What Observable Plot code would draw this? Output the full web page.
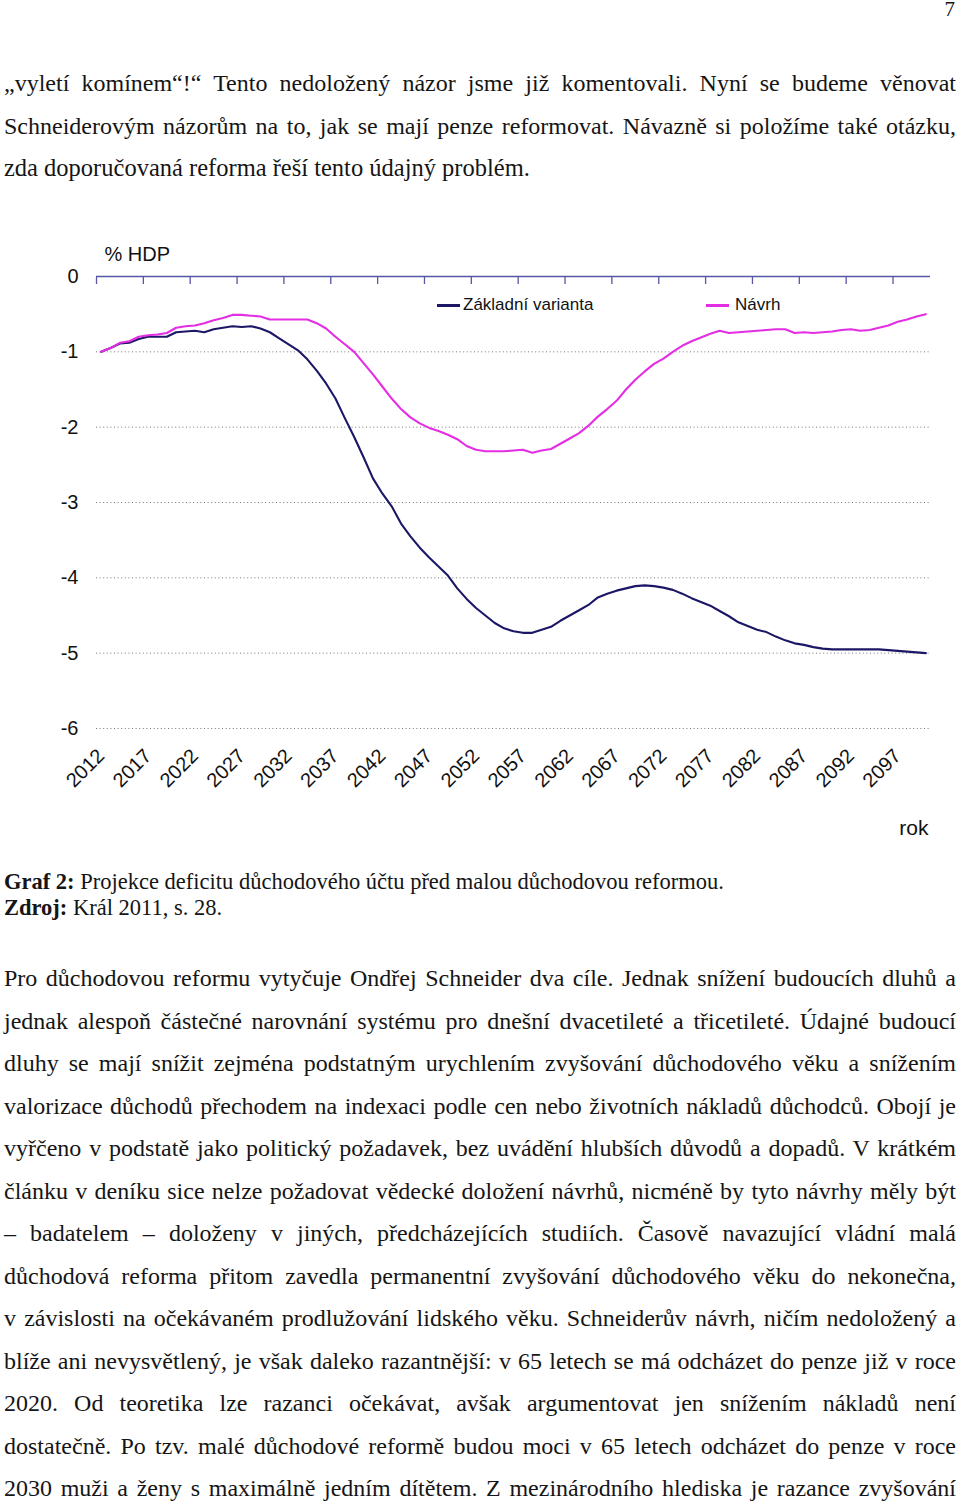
<!DOCTYPE html>
<html><head><meta charset="utf-8">
<script src="https://cdn.jsdelivr.net/npm/d3@7"></script>
<script src="https://cdn.jsdelivr.net/npm/@observablehq/plot@0.6"></script>
<style>
html,body{margin:0;padding:0;background:#fff;}
body{width:960px;height:1505px;position:relative;overflow:hidden;font-family:"Liberation Serif","DejaVu Serif",serif;color:#151515;}
.blk{position:absolute;left:4px;width:952px;}
.blk div{text-align:justify;text-align-last:justify;}
.blk div.last{text-align-last:left;word-spacing:0;}
#top{top:62px;font-size:24px;line-height:42.5px;word-spacing:-1px;}
#top div.last{font-size:24.5px;}
#bottom{top:957px;font-size:24px;line-height:42.5px;word-spacing:-1px;}
#cap{top:869px;font-size:22.5px;line-height:26px;}
#pg{position:absolute;right:5px;top:0px;font-size:21px;line-height:18px;}
#chart{position:absolute;left:0;top:230px;width:960px;height:620px;}
#legend{position:absolute;top:65px;left:0;width:960px;height:22px;font-family:"Liberation Sans",Arial,sans-serif;font-size:17px;color:#111;}
#legend span.sw{position:absolute;top:9px;height:2.5px;width:23px;}
#legend span.lb{position:absolute;top:0;line-height:20px;}
</style></head>
<body>
<div id="pg">7</div>
<div class="blk" id="top">
<div>„vyletí komínem“!“ Tento nedoložený názor jsme již komentovali. Nyní se budeme věnovat</div>
<div>Schneiderovým názorům na to, jak se mají penze reformovat. Návazně si položíme také otázku,</div>
<div class="last">zda doporučovaná reforma řeší tento údajný problém.</div>
</div>
<div id="chart"></div>
<div class="blk" id="cap">
<div class="last"><b>Graf 2:</b> Projekce deficitu důchodového účtu před malou důchodovou reformou.</div>
<div class="last"><b>Zdroj:</b> Král 2011, s. 28.</div>
</div>
<div class="blk" id="bottom">
<div>Pro důchodovou reformu vytyčuje Ondřej Schneider dva cíle. Jednak snížení budoucích dluhů a</div>
<div>jednak alespoň částečné narovnání systému pro dnešní dvacetileté a třicetileté. Údajné budoucí</div>
<div>dluhy se mají snížit zejména podstatným urychlením zvyšování důchodového věku a snížením</div>
<div>valorizace důchodů přechodem na indexaci podle cen nebo životních nákladů důchodců. Obojí je</div>
<div>vyřčeno v podstatě jako politický požadavek, bez uvádění hlubších důvodů a dopadů. V krátkém</div>
<div>článku v deníku sice nelze požadovat vědecké doložení návrhů, nicméně by tyto návrhy měly být</div>
<div>– badatelem – doloženy v jiných, předcházejících studiích. Časově navazující vládní malá</div>
<div>důchodová reforma přitom zavedla permanentní zvyšování důchodového věku do nekonečna,</div>
<div>v závislosti na očekávaném prodlužování lidského věku. Schneiderův návrh, ničím nedoložený a</div>
<div>blíže ani nevysvětlený, je však daleko razantnější: v 65 letech se má odcházet do penze již v roce</div>
<div>2020. Od teoretika lze razanci očekávat, avšak argumentovat jen snížením nákladů není</div>
<div>dostatečně. Po tzv. malé důchodové reformě budou moci v 65 letech odcházet do penze v roce</div>
<div>2030 muži a ženy s maximálně jedním dítětem. Z mezinárodního hlediska je razance zvyšování</div>
</div>
<script>
const startYear = 2012;
const seriesNames = ["Základní varianta", "Návrh"];
const zakladni = [
-1.00,-0.95,-0.89,-0.88,-0.83,-0.80,-0.80,-0.80,-0.74,-0.73,
-0.72,-0.74,-0.70,-0.68,-0.66,-0.67,-0.66,-0.69,-0.74,-0.82,
-0.90,-0.98,-1.10,-1.25,-1.42,-1.62,-1.88,-2.13,-2.40,-2.68,
-2.88,-3.05,-3.28,-3.45,-3.60,-3.73,-3.85,-3.97,-4.14,-4.28,
-4.40,-4.50,-4.60,-4.67,-4.71,-4.73,-4.73,-4.69,-4.65,-4.57,
-4.50,-4.43,-4.36,-4.26,-4.21,-4.17,-4.14,-4.11,-4.10,-4.11,
-4.13,-4.16,-4.21,-4.27,-4.32,-4.37,-4.44,-4.51,-4.59,-4.64,
-4.69,-4.72,-4.78,-4.83,-4.87,-4.89,-4.92,-4.94,-4.95,-4.95,
-4.95,-4.95,-4.95,-4.95,-4.96,-4.97,-4.98,-4.99,-5.00];
const navrh = [
-1.00,-0.95,-0.88,-0.86,-0.80,-0.78,-0.77,-0.75,-0.68,-0.66,
-0.65,-0.62,-0.58,-0.55,-0.51,-0.51,-0.52,-0.53,-0.57,-0.57,
-0.57,-0.57,-0.57,-0.62,-0.69,-0.80,-0.90,-1.00,-1.15,-1.30,
-1.46,-1.62,-1.76,-1.87,-1.95,-2.01,-2.05,-2.10,-2.16,-2.25,
-2.30,-2.32,-2.32,-2.32,-2.31,-2.30,-2.34,-2.31,-2.29,-2.22,
-2.15,-2.08,-1.98,-1.86,-1.76,-1.65,-1.50,-1.37,-1.26,-1.16,
-1.09,-1.00,-0.92,-0.86,-0.81,-0.76,-0.72,-0.75,-0.74,-0.73,
-0.72,-0.71,-0.70,-0.70,-0.75,-0.74,-0.75,-0.74,-0.73,-0.71,
-0.70,-0.72,-0.71,-0.68,-0.65,-0.60,-0.57,-0.53,-0.50];
const labelYears = [2012,2017,2022,2027,2032,2037,2042,2047,2052,2057,2062,2067,2072,2077,2082,2087,2092,2097];
const yTicks = [0,-1,-2,-3,-4,-5,-6];
const yLabel = "% HDP";
const xLabel = "rok";
const colors = ["#1b1766", "#e42ee4"];
const axisColor = "#5757a6";

const rows = [];
zakladni.forEach((v, i) => rows.push({year: startYear + i, value: v, series: seriesNames[0]}));
navrh.forEach((v, i) => rows.push({year: startYear + i, value: v, series: seriesNames[1]}));
const boundaries = labelYears.map(y => y - 0.5);

const chart = Plot.plot({
  width: 960, height: 620,
  marginLeft: 96, marginRight: 30, marginTop: 46, marginBottom: 122,
  x: {domain: [startYear - 0.5, startYear + zakladni.length - 0.5]},
  y: {domain: [-6, 0]},
  color: {domain: seriesNames, range: colors},
  style: {fontFamily: '"Liberation Sans", Arial, sans-serif', background: "transparent", color: "#111", overflow: "visible"},
  marks: [
    Plot.gridY(yTicks.filter(d => d < 0), {stroke: "#777", strokeOpacity: 1, strokeWidth: 1, strokeDasharray: "1,2.6"}),
    Plot.axisY(yTicks, {tickSize: 0, tickPadding: 18, fontSize: 20, label: null, tickFormat: d => String(d)}),
    Plot.ruleY([0], {stroke: axisColor, strokeWidth: 1.6}),
    Plot.axisX(boundaries, {anchor: "top", tickSize: -7, stroke: axisColor, strokeWidth: 1.3, tickFormat: () => "", label: null}),
    Plot.axisX(labelYears, {anchor: "bottom", tickSize: 0, tickPadding: 24, tickRotate: -45, fontSize: 20, label: null, tickFormat: d => String(d)}),
    Plot.line(rows, {x: "year", y: "value", z: "series", stroke: "series", strokeWidth: 2.1}),
    Plot.text([yLabel], {text: d => d, frameAnchor: "top-left", lineAnchor: "middle", dx: 8, dy: -22, fontSize: 20, textAnchor: "start"}),
    Plot.text([xLabel], {text: d => d, frameAnchor: "bottom-right", lineAnchor: "middle", dx: -2, dy: 100, fontSize: 21, textAnchor: "end"})
  ]
});
const host = document.getElementById("chart");
host.appendChild(chart);

const legend = document.createElement("div");
legend.id = "legend";
const legendPos = [[437, 463], [706, 735]];
seriesNames.forEach((name, i) => {
  const sw = document.createElement("span");
  sw.className = "sw";
  sw.style.left = legendPos[i][0] + "px";
  sw.style.background = colors[i];
  const lb = document.createElement("span");
  lb.className = "lb";
  lb.style.left = legendPos[i][1] + "px";
  lb.textContent = name;
  legend.appendChild(sw);
  legend.appendChild(lb);
});
host.appendChild(legend);
</script>
</body></html>
